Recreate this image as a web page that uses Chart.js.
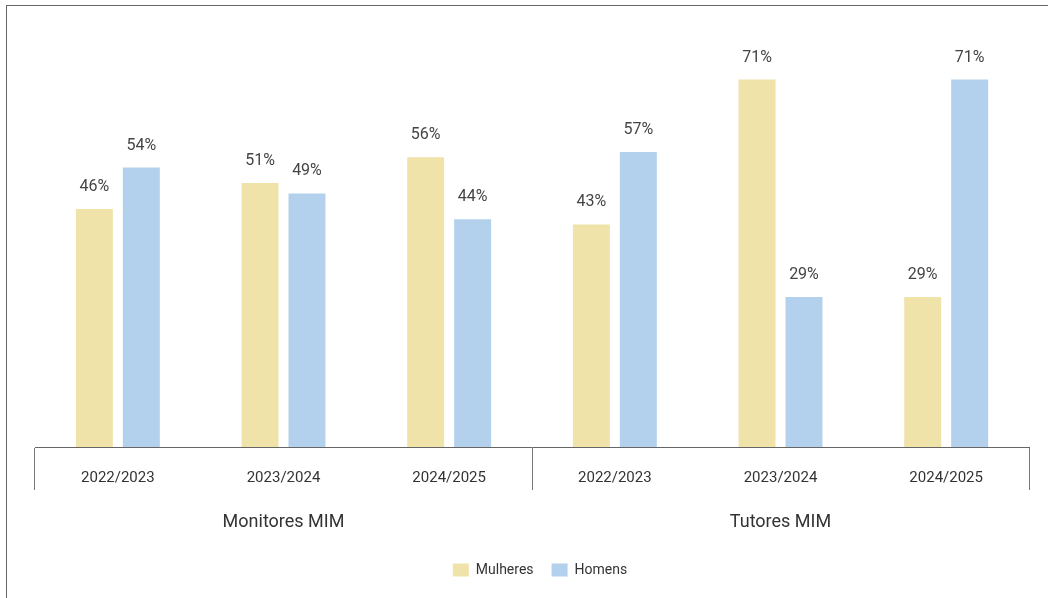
<!DOCTYPE html>
<html>
<head>
<meta charset="utf-8">
<script src="https://cdn.jsdelivr.net/npm/chart.js@4"></script>
<style>
  html, body { margin: 0; padding: 0; background: #fff; }
  #frame { position: absolute; left: 6px; top: 5px; width: 1100px; height: 700px;
           border-left: 1px solid #666; border-top: 1px solid #666; }
  #wrap { position: absolute; left: 0; top: 0; width: 1048px; height: 598px; }
</style>
</head>
<body>
<div id="frame"></div>
<div id="wrap"><canvas id="chart" width="1048" height="598"></canvas></div>
<script>
// data
const years = ['2022/2023', '2023/2024', '2024/2025', '2022/2023', '2023/2024', '2024/2025'];
const groups = ['Monitores MIM', 'Tutores MIM'];
const mulheres = [46, 51, 56, 43, 71, 29];
const homens = [54, 49, 44, 57, 29, 71];

// value labels above bars
const barLabels = {
  id: 'barLabels',
  afterDatasetsDraw(chart) {
    const c = chart.ctx;
    c.save();
    c.font = '16px Roboto';
    c.fillStyle = '#444';
    c.textAlign = 'center';
    c.textBaseline = 'middle';
    chart.data.datasets.forEach((ds, i) => {
      chart.getDatasetMeta(i).data.forEach((bar, j) => {
        c.fillText(ds.data[j] + '%', bar.x, bar.y - 22);
      });
    });
    c.restore();
  }
};

const ctx = document.getElementById('chart').getContext('2d');
new Chart(ctx, {
  type: 'bar',
  data: {
    labels: years,
    datasets: [
      { label: 'Mulheres', data: mulheres, backgroundColor: '#f0e3aa',
        categoryPercentage: 0.567, barPercentage: 0.787 },
      { label: 'Homens', data: homens, backgroundColor: '#b3d1ec',
        categoryPercentage: 0.567, barPercentage: 0.787 }
    ]
  },
  options: {
    responsive: false,
    animation: false,
    layout: { padding: { left: 35, right: 3, top: 33, bottom: 11 } },
    plugins: {
      tooltip: { enabled: false },
      legend: {
        position: 'bottom',
        labels: { boxWidth: 16, boxHeight: 13, font: { family: 'Roboto', size: 14 }, color: '#333', padding: 18 }
      }
    },
    scales: {
      y: { display: false, min: 0, max: 80 },
      // empty spacer on the right so the legend centres like the original
      yr: {
        position: 'right',
        display: true,
        grid: { display: false },
        border: { display: false },
        ticks: { display: false },
        afterFit: (s) => { s.width = 16; }
      },
      x: {
        position: 'bottom',
        grid: {
          offset: true,
          drawOnChartArea: false,
          tickLength: 43,
          color: (c) => (c.index === undefined || c.index % 3 === 0 ? '#777' : 'rgba(0,0,0,0)')
        },
        border: { color: '#666' },
        ticks: { font: { family: 'Roboto', size: 15 }, color: '#333', padding: -21 },
        afterFit: (s) => { s.height = 55; }
      },
      x2: {
        type: 'category',
        labels: groups,
        position: 'bottom',
        grid: { display: false },
        border: { display: false },
        ticks: { font: { family: 'Roboto', size: 18 }, color: '#333', padding: 2 },
        afterFit: (s) => { s.height = 43; }
      }
    }
  },
  plugins: [barLabels]
});
</script>
</body>
</html>
